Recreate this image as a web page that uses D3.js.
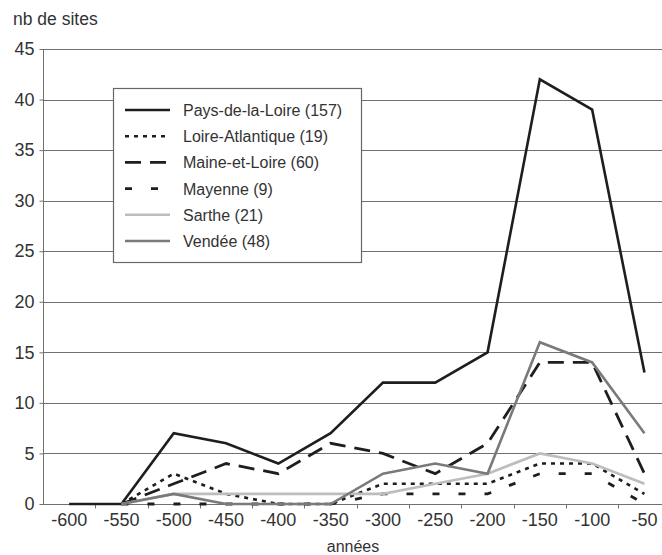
<!DOCTYPE html>
<html><head><meta charset="utf-8">
<script src="https://cdn.jsdelivr.net/npm/d3@7"></script>
<style>
html,body{margin:0;padding:0;background:#fff;}
svg{display:block;font-family:"Liberation Sans",Arial,sans-serif;}
</style></head>
<body>
<svg id="chart" width="662" height="555"></svg>
<script>
const categories = [-600,-550,-500,-450,-400,-350,-300,-250,-200,-150,-100,-50];
const paysDeLaLoire = [0,0,7,6,4,7,12,12,15,42,39,13];
const loireAtlantique = [null,0,3,1,0,0,2,2,2,4,4,1];
const maineEtLoire = [null,0,2,4,3,6,5,3,6,14,14,3];
const mayenne = [null,0,0,0,0,0,1,1,1,3,3,0];
const sarthe = [null,0,1,1,1,1,1,2,3,5,4,2];
const vendee = [null,0,1,0,0,0,3,4,3,16,14,7];
const seriesNames = ["Pays-de-la-Loire (157)","Loire-Atlantique (19)","Maine-et-Loire (60)","Mayenne (9)","Sarthe (21)","Vendée (48)"];
const yTicks = [0,5,10,15,20,25,30,35,40,45];

const styles = [
  {color:"#1e1e1e", width:2.6, dash:null},
  {color:"#1e1e1e", width:2.6, dash:"4,5"},
  {color:"#1e1e1e", width:2.8, dash:"16,9"},
  {color:"#1e1e1e", width:2.8, dash:"7,19"},
  {color:"#bdbdbd", width:2.6, dash:null},
  {color:"#7a7a7a", width:2.6, dash:null}
];
const allSeries = [paysDeLaLoire, loireAtlantique, maineEtLoire, mayenne, sarthe, vendee];

const svg = d3.select("#chart");
const mLeft = 43, mRight = 662, mTop = 49, mBottom = 504;
const bw = 52.3;
const x = d3.scaleBand().domain(categories).range([mLeft, mLeft + bw*categories.length]).padding(0);
const y = d3.scaleLinear().domain([0,45]).range([mBottom, mTop]);
const cx = d => x(d) + x.bandwidth()/2;

// gridlines
svg.append("g").selectAll("line").data(yTicks.filter(t=>t>0)).join("line")
  .attr("x1", mLeft).attr("x2", mRight)
  .attr("y1", d=>Math.round(y(d))+0.5).attr("y2", d=>Math.round(y(d))+0.5)
  .attr("stroke","#707070").attr("stroke-width",1);

// y axis
const yAxis = d3.axisLeft(y).tickValues(yTicks).tickSize(4).tickPadding(5);
const gy = svg.append("g").attr("transform",`translate(${mLeft+0.5},0)`).call(yAxis);
gy.select(".domain").attr("stroke","#707070").attr("d",`M0,${mTop}V${mBottom}`);
gy.selectAll(".tick line").attr("stroke","#707070");
gy.selectAll(".tick text").attr("font-size",18).attr("fill","#333").attr("font-family","Liberation Sans, Arial, sans-serif");

// x axis
const xAxis = d3.axisBottom(x).tickSize(0).tickPadding(9);
const gx = svg.append("g").attr("transform",`translate(0,${mBottom+0.5})`).call(xAxis);
gx.select(".domain").attr("stroke","#707070").attr("d",`M${mLeft},0H${mRight}`);
gx.selectAll(".tick text").attr("font-size",18).attr("fill","#333").attr("font-family","Liberation Sans, Arial, sans-serif");
gx.append("g").selectAll("line").data(categories.slice(1)).join("line")
  .attr("x1", d=>Math.round(x(d))+0.5).attr("x2", d=>Math.round(x(d))+0.5)
  .attr("y1",0).attr("y2",4).attr("stroke","#707070");

// lines
const line = d3.line().defined(d=>d.v!==null).x(d=>cx(d.c)).y(d=>y(d.v));
allSeries.forEach((s,i)=>{
  const data = categories.map((c,j)=>({c, v:s[j]}));
  svg.append("path").datum(data).attr("d",line)
    .attr("fill","none").attr("stroke",styles[i].color).attr("stroke-width",styles[i].width)
    .attr("stroke-dasharray",styles[i].dash).attr("stroke-linejoin","miter").attr("stroke-linecap","butt");
});

// titles
svg.append("text").attr("x",13).attr("y",25).attr("font-size",17.5).attr("fill","#333").text("nb de sites");
svg.append("text").attr("x",353).attr("y",552).attr("text-anchor","middle").attr("font-size",16).attr("fill","#333").text("années");

// legend
const lg = svg.append("g");
lg.append("rect").attr("x",113.5).attr("y",88.5).attr("width",248).attr("height",174)
  .attr("fill","#fff").attr("stroke","#666").attr("stroke-width",1.2);
seriesNames.forEach((n,i)=>{
  const yy = 110 + i*26.2;
  lg.append("line").attr("x1",125).attr("x2",170).attr("y1",yy).attr("y2",yy)
    .attr("stroke",styles[i].color).attr("stroke-width",styles[i].width).attr("stroke-dasharray",styles[i].dash);
  lg.append("text").attr("x",183).attr("y",yy+6).attr("font-size",16).attr("fill","#333").text(n);
});
</script>
</body></html>
